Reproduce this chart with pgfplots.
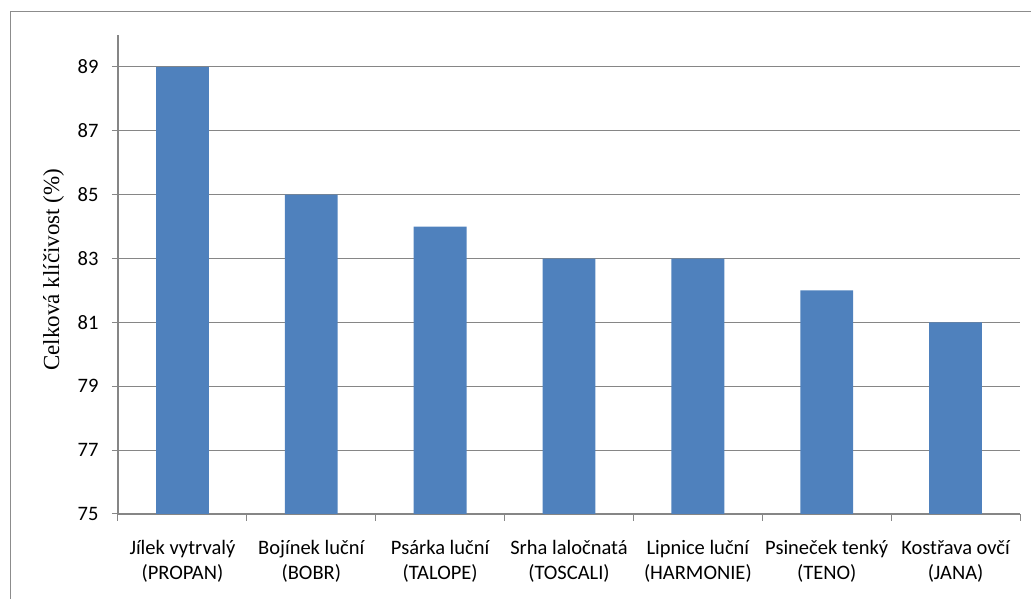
\documentclass[border=0pt]{standalone}
\usepackage{pgfplots}
\pgfplotsset{compat=1.18}
\usepackage{fontspec}
\setmainfont{Carlito}
\newfontfamily\serifrm{Liberation Serif}
\definecolor{barblue}{HTML}{4F81BD}
\definecolor{axgray}{HTML}{868686}
\definecolor{framegray}{HTML}{8C8C8C}

\begin{document}
\begin{tikzpicture}[x=1pt,y=1pt]
\useasboundingbox (0,0) rectangle (1031,599);
% outer chart frame (continues beyond the right and bottom edges)
\draw[framegray, line width=1pt] (10,-5) -- (10,587) -- (1040,587);
\begin{axis}[
  at={(118pt,85pt)}, anchor=south west,
  scale only axis,
  width=902pt, height=479pt,
  xmin=-0.5, xmax=6.5,
  ymin=75, ymax=90,
  axis x line*=bottom, axis y line*=left,
  axis line style={axgray, line width=1.2pt, -},
  ytick={75,77,...,89},
  ymajorgrids,
  grid style={axgray, line width=1pt},
  tick align=outside,
  major tick length=6pt,
  minor tick length=7pt,
  y tick style={axgray, line width=1pt},
  xtick={0,...,6},
  major x tick style={draw=none},
  minor xtick={-0.5,0.5,...,6.5},
  minor x tick style={axgray, line width=1pt},
  xticklabels={{Jílek vytrvalý\\(PROPAN)},{Bojínek luční\\(BOBR)},{Psárka luční\\(TALOPE)},{Srha laločnatá\\(TOSCALI)},{Lipnice luční\\(HARMONIE)},{Psineček tenký\\(TENO)},{Kostřava ovčí\\(JANA)}},
  xticklabel style={font=\fontsize{20.5}{25}\selectfont, align=center, text depth=0pt, yshift=-17pt},
  yticklabel style={font=\fontsize{20.5}{24}\selectfont, xshift=-10pt},
  /pgf/number format/assume math mode=true,
  ylabel={Celková klíčivost (\%)},
  ylabel style={font=\serifrm\fontsize{23}{27}\selectfont, at={(axis description cs:-0.0715,0.51)}, anchor=center},
  clip=false,
]
\addplot[ybar, bar width=0.41, fill=barblue, draw=none, bar shift=0pt]
  coordinates {(0,89) (1,85) (2,84) (3,83) (4,83) (5,82) (6,81)};
\end{axis}
\end{tikzpicture}
\end{document}
